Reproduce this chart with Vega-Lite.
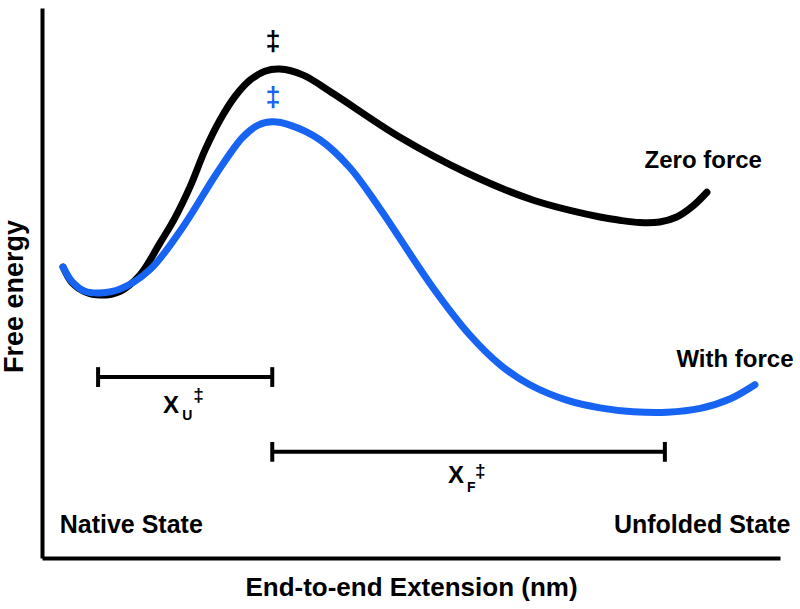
{
  "$schema": "https://vega.github.io/schema/vega-lite/v6.json",
  "width": 738,
  "height": 550,
  "autosize": "none",
  "padding": {"left": 42, "top": 8, "right": 20, "bottom": 51},
  "config": {"font": "Liberation Sans", "view": {"stroke": null}},
  "datasets": {
    "curves": [
      {"series": "Zero force", "ext": 0.285, "energy": 5.29},
      {"series": "Zero force", "ext": 0.41, "energy": 5.0},
      {"series": "Zero force", "ext": 0.58, "energy": 4.84},
      {"series": "Zero force", "ext": 0.79, "energy": 4.78},
      {"series": "Zero force", "ext": 1.06, "energy": 4.85},
      {"series": "Zero force", "ext": 1.33, "energy": 5.15},
      {"series": "Zero force", "ext": 1.6, "energy": 5.73},
      {"series": "Zero force", "ext": 1.8, "energy": 6.18},
      {"series": "Zero force", "ext": 2.01, "energy": 6.76},
      {"series": "Zero force", "ext": 2.21, "energy": 7.42},
      {"series": "Zero force", "ext": 2.41, "energy": 7.96},
      {"series": "Zero force", "ext": 2.62, "energy": 8.4},
      {"series": "Zero force", "ext": 2.82, "energy": 8.69},
      {"series": "Zero force", "ext": 3.02, "energy": 8.85},
      {"series": "Zero force", "ext": 3.22, "energy": 8.89},
      {"series": "Zero force", "ext": 3.54, "energy": 8.78},
      {"series": "Zero force", "ext": 3.94, "energy": 8.45},
      {"series": "Zero force", "ext": 4.85, "energy": 7.65},
      {"series": "Zero force", "ext": 5.76, "energy": 7.0},
      {"series": "Zero force", "ext": 6.65, "energy": 6.51},
      {"series": "Zero force", "ext": 7.56, "energy": 6.2},
      {"series": "Zero force", "ext": 7.83, "energy": 6.14},
      {"series": "Zero force", "ext": 8.1, "energy": 6.1},
      {"series": "Zero force", "ext": 8.37, "energy": 6.11},
      {"series": "Zero force", "ext": 8.6, "energy": 6.2},
      {"series": "Zero force", "ext": 8.82, "energy": 6.4},
      {"series": "Zero force", "ext": 9.01, "energy": 6.65},
      {"series": "With force", "ext": 0.285, "energy": 5.29},
      {"series": "With force", "ext": 0.41, "energy": 5.02},
      {"series": "With force", "ext": 0.58, "energy": 4.85},
      {"series": "With force", "ext": 0.79, "energy": 4.82},
      {"series": "With force", "ext": 1.06, "energy": 4.89},
      {"series": "With force", "ext": 1.46, "energy": 5.24},
      {"series": "With force", "ext": 1.91, "energy": 6.02},
      {"series": "With force", "ext": 2.37, "energy": 7.0},
      {"series": "With force", "ext": 2.72, "energy": 7.65},
      {"series": "With force", "ext": 2.93, "energy": 7.87},
      {"series": "With force", "ext": 3.12, "energy": 7.93},
      {"series": "With force", "ext": 3.36, "energy": 7.87},
      {"series": "With force", "ext": 3.77, "energy": 7.6},
      {"series": "With force", "ext": 4.17, "energy": 7.1},
      {"series": "With force", "ext": 4.58, "energy": 6.35},
      {"series": "With force", "ext": 5.3, "energy": 4.91},
      {"series": "With force", "ext": 5.8, "energy": 4.05},
      {"series": "With force", "ext": 6.21, "energy": 3.51},
      {"series": "With force", "ext": 6.61, "energy": 3.15},
      {"series": "With force", "ext": 7.11, "energy": 2.87},
      {"series": "With force", "ext": 7.56, "energy": 2.73},
      {"series": "With force", "ext": 8.01, "energy": 2.66},
      {"series": "With force", "ext": 8.47, "energy": 2.65},
      {"series": "With force", "ext": 8.92, "energy": 2.72},
      {"series": "With force", "ext": 9.32, "energy": 2.89},
      {"series": "With force", "ext": 9.66, "energy": 3.15}
    ],
    "segments": [
      {"x": 0.76, "x2": 3.12, "y": 3.29, "y2": 3.29},
      {"x": 0.76, "x2": 0.76, "y": 3.47, "y2": 3.11},
      {"x": 3.12, "x2": 3.12, "y": 3.47, "y2": 3.11},
      {"x": 3.12, "x2": 8.44, "y": 1.93, "y2": 1.93},
      {"x": 3.12, "x2": 3.12, "y": 2.11, "y2": 1.75},
      {"x": 8.44, "x2": 8.44, "y": 2.11, "y2": 1.75}
    ],
    "bigX": [
      {"label": "X", "x": 1.64, "y": 2.64},
      {"label": "X", "x": 5.5, "y": 1.36}
    ],
    "subs": [
      {"label": "U", "x": 1.9, "y": 2.51},
      {"label": "F", "x": 5.76, "y": 1.2}
    ],
    "smallDagger": [
      {"label": "‡", "x": 2.12, "y": 2.96},
      {"label": "‡", "x": 5.94, "y": 1.58}
    ],
    "peakDagger": [
      {"series": "Zero force", "label": "‡", "x": 3.13, "y": 9.38},
      {"series": "With force", "label": "‡", "x": 3.13, "y": 8.36}
    ],
    "curveLabels": [
      {"label": "Zero force", "x": 8.96, "y": 7.09},
      {"label": "With force", "x": 9.39, "y": 3.47}
    ],
    "stateLeft": [{"label": "Native State", "x": 0.24, "y": 0.45}],
    "stateRight": [{"label": "Unfolded State", "x": 10.14, "y": 0.45}]
  },
  "layer": [
    {
      "data": {"name": "curves"},
      "mark": {"type": "line", "strokeWidth": 7, "strokeCap": "round", "interpolate": "catmull-rom", "clip": false},
      "encoding": {
        "x": {"field": "ext", "type": "quantitative", "scale": {"domain": [0, 10], "nice": false, "zero": false},
          "axis": {"title": "End-to-end Extension (nm)", "labels": false, "ticks": false, "grid": false, "domainColor": "#000", "domainWidth": 4, "titleFontSize": 26, "titleFontWeight": "bold", "titleColor": "#000", "titlePadding": 16}},
        "y": {"field": "energy", "type": "quantitative", "scale": {"domain": [0, 10], "nice": false, "zero": false},
          "axis": {"title": "Free energy", "labels": false, "ticks": false, "grid": false, "domainColor": "#000", "domainWidth": 4, "titleFontSize": 27, "titleFontWeight": "bold", "titleColor": "#000", "titlePadding": 14, "titleY": 288}},
        "color": {"field": "series", "type": "nominal", "scale": {"domain": ["Zero force", "With force"], "range": ["#000000", "#1763F2"]}, "legend": null},
        "order": {"field": "ext", "type": "quantitative"}
      }
    },
    {
      "data": {"name": "segments"},
      "mark": {"type": "rule", "strokeWidth": 4, "color": "#000"},
      "encoding": {
        "x": {"field": "x", "type": "quantitative"},
        "x2": {"field": "x2"},
        "y": {"field": "y", "type": "quantitative"},
        "y2": {"field": "y2"}
      }
    },
    {
      "data": {"name": "bigX"},
      "mark": {"type": "text", "fontSize": 24, "fontWeight": "bold", "align": "left", "baseline": "alphabetic", "color": "#000"},
      "encoding": {
        "x": {"field": "x", "type": "quantitative"},
        "y": {"field": "y", "type": "quantitative"},
        "text": {"field": "label"}
      }
    },
    {
      "data": {"name": "subs"},
      "mark": {"type": "text", "fontSize": 14, "fontWeight": "bold", "align": "left", "baseline": "alphabetic", "color": "#000"},
      "encoding": {
        "x": {"field": "x", "type": "quantitative"},
        "y": {"field": "y", "type": "quantitative"},
        "text": {"field": "label"}
      }
    },
    {
      "data": {"name": "smallDagger"},
      "mark": {"type": "text", "fontSize": 19, "fontWeight": "bold", "align": "center", "baseline": "middle", "color": "#000"},
      "encoding": {
        "x": {"field": "x", "type": "quantitative"},
        "y": {"field": "y", "type": "quantitative"},
        "text": {"field": "label"}
      }
    },
    {
      "data": {"name": "peakDagger"},
      "mark": {"type": "text", "fontSize": 27, "fontWeight": "bold", "align": "center", "baseline": "middle"},
      "encoding": {
        "x": {"field": "x", "type": "quantitative"},
        "y": {"field": "y", "type": "quantitative"},
        "text": {"field": "label"},
        "color": {"field": "series", "type": "nominal", "scale": {"domain": ["Zero force", "With force"], "range": ["#000000", "#1763F2"]}, "legend": null}
      }
    },
    {
      "data": {"name": "curveLabels"},
      "mark": {"type": "text", "fontSize": 24, "fontWeight": "bold", "align": "center", "baseline": "alphabetic", "color": "#000"},
      "encoding": {
        "x": {"field": "x", "type": "quantitative"},
        "y": {"field": "y", "type": "quantitative"},
        "text": {"field": "label"}
      }
    },
    {
      "data": {"name": "stateLeft"},
      "mark": {"type": "text", "fontSize": 25, "fontWeight": "bold", "align": "left", "baseline": "alphabetic", "color": "#000"},
      "encoding": {
        "x": {"field": "x", "type": "quantitative"},
        "y": {"field": "y", "type": "quantitative"},
        "text": {"field": "label"}
      }
    },
    {
      "data": {"name": "stateRight"},
      "mark": {"type": "text", "fontSize": 25, "fontWeight": "bold", "align": "right", "baseline": "alphabetic", "color": "#000"},
      "encoding": {
        "x": {"field": "x", "type": "quantitative"},
        "y": {"field": "y", "type": "quantitative"},
        "text": {"field": "label"}
      }
    }
  ]
}
